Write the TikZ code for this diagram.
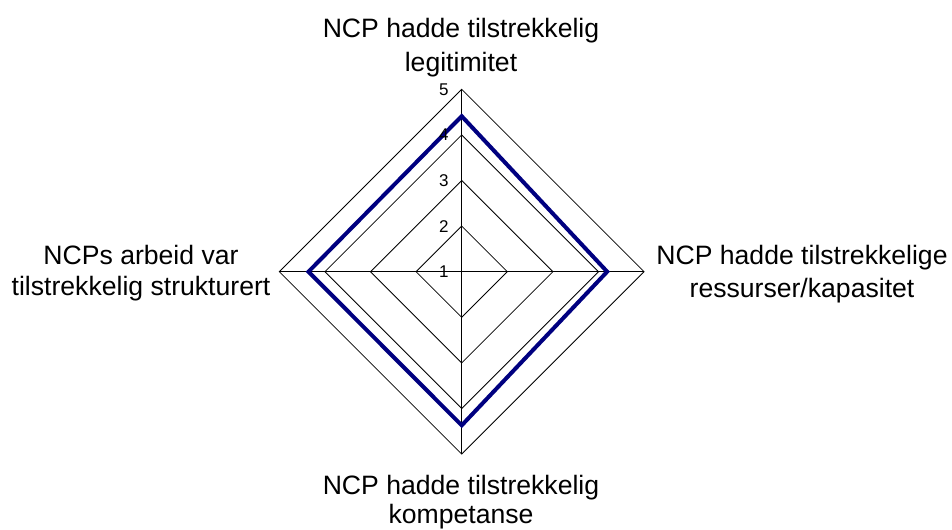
\documentclass[tikz,border=0pt]{standalone}
\usepackage{fontspec}
\setmainfont{Liberation Sans}
\definecolor{navyline}{RGB}{0,0,128}
\begin{document}
\begin{tikzpicture}[x=1bp,y=1bp,
  gridline/.style={black, line width=0.8bp},
  dataline/.style={navyline, line width=4bp, line join=miter},
  catlabel/.style={font=\fontsize{26.6bp}{33bp}\selectfont, align=center, inner sep=0pt, anchor=base},
  ticklabel/.style={font=\fontsize{17bp}{20bp}\selectfont, inner sep=0pt, anchor=east}]
\useasboundingbox (0,0) rectangle (952,530);
\def\unit{45.6}
\coordinate (C) at (461.7,258.3);
% rings
\foreach \k in {2,...,5} {
  \pgfmathsetmacro\r{(\k-1)*\unit}
  \draw[gridline] ([shift={(C)}]90:\r) -- ([shift={(C)}]0:\r) -- ([shift={(C)}]270:\r) -- ([shift={(C)}]180:\r) -- cycle;
}
% axes
\coordinate (AT) at ([shift={(C)}]90:{4*\unit});
\coordinate (AR) at ([shift={(C)}]0:{4*\unit});
\coordinate (AB) at ([shift={(C)}]270:{4*\unit});
\coordinate (AL) at ([shift={(C)}]180:{4*\unit});
\draw[gridline] (AT) -- (AB);
\draw[gridline] (AL) -- (AR);
% data
\coordinate (DT) at ([shift={(C)}]90:{3.41*\unit});
\coordinate (DR) at ([shift={(C)}]0:{3.19*\unit});
\coordinate (DB) at ([shift={(C)}]270:{3.37*\unit});
\coordinate (DL) at ([shift={(C)}]180:{3.36*\unit});
\draw[dataline] (DT) -- (DR) -- (DB) -- (DL) -- cycle;
% tick labels
\foreach \k in {1,...,5} {
  \node[ticklabel] (tick\k) at ([shift={(C)}]-13,{(\k-1)*\unit}) {\k};
}
% category labels (anchored at the baseline of their last line)
\node[catlabel] (ltop) at (461,458.3) {NCP hadde tilstrekkelig\\[1bp]legitimitet};
\node[catlabel] (lright) at (802,232) {NCP hadde tilstrekkelige\\ressurser/kapasitet};
\node[catlabel] (lleft) at (141,234) {NCPs arbeid var\\[-2bp]tilstrekkelig strukturert};
\node[catlabel] (lbottom) at (461,6) {NCP hadde tilstrekkelig\\[-4bp]kompetanse};
\end{tikzpicture}
\end{document}
